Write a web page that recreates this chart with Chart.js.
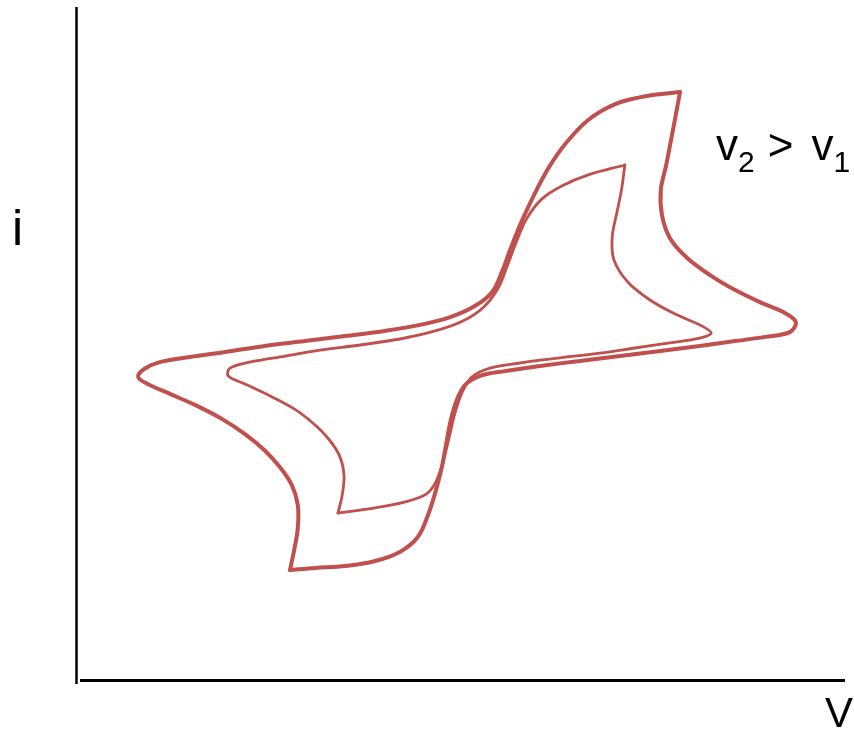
<!DOCTYPE html>
<html>
<head>
<meta charset="utf-8">
<title>Cyclic voltammogram at two scan rates</title>
<script src="https://cdn.jsdelivr.net/npm/chart.js@4/dist/chart.umd.min.js"></script>
<style>
  body { margin: 0; background: #fff; }
  #wrap { position: relative; width: 854px; height: 736px; }
  .lbl { position: absolute; font-family: "Liberation Sans", Arial, sans-serif; color: #000; line-height: 1; white-space: nowrap; }
  #note sub { font-size: 30px; vertical-align: -12px; line-height: 1; }
  #note .gt { margin-left: 13px; margin-right: 18px; }
</style>
</head>
<body>
<div id="wrap">
  <canvas id="cv" width="854" height="736"></canvas>
  <div class="lbl" id="ylab" style="left:12px; top:203px; font-size:50px;">i</div>
  <div class="lbl" id="xlab" style="left:825px; top:692px; font-size:42px;">V</div>
  <div class="lbl" id="note" style="left:716px; top:123px; font-size:44px;">v<sub>2</sub><span class="gt">&gt;</span>v<sub>1</sub></div>
</div>
<script>
// potential (V) and current (arb.) for the faster scan, v2
// forward half: from the upper switching corner down through the right tip to the lower corner
const v2ForwardE = [0.405, 0.398, 0.390, 0.382, 0.373, 0.375, 0.388, 0.417, 0.455, 0.497, 0.538, 0.577, 0.598, 0.588, 0.547, 0.497, 0.438, 0.372, 0.305, 0.238, 0.172, 0.113, 0.072, 0.047, 0.033, 0.023, 0.015, 0.007, -0.003, -0.015, -0.032, -0.062, -0.103, -0.153, -0.203, -0.245];
const v2ForwardI = [0.813, 0.737, 0.653, 0.570, 0.487, 0.403, 0.327, 0.260, 0.203, 0.153, 0.113, 0.080, 0.047, 0.013, -0.003, -0.017, -0.033, -0.050, -0.067, -0.083, -0.100, -0.117, -0.133, -0.163, -0.213, -0.280, -0.363, -0.447, -0.523, -0.597, -0.670, -0.720, -0.750, -0.767, -0.773, -0.780];
// reverse half: lower corner, up through the left tip, back to the upper corner
const v2ReverseE = [-0.245, -0.238, -0.232, -0.232, -0.242, -0.262, -0.288, -0.320, -0.358, -0.400, -0.445, -0.482, -0.498, -0.488, -0.462, -0.412, -0.353, -0.287, -0.220, -0.153, -0.087, -0.028, 0.022, 0.063, 0.092, 0.108, 0.123, 0.140, 0.160, 0.185, 0.215, 0.252, 0.297, 0.350, 0.405];
const v2ReverseI = [-0.780, -0.713, -0.640, -0.563, -0.497, -0.437, -0.380, -0.327, -0.277, -0.233, -0.193, -0.160, -0.137, -0.110, -0.087, -0.070, -0.053, -0.033, -0.017, 0.000, 0.017, 0.037, 0.063, 0.100, 0.147, 0.213, 0.293, 0.377, 0.463, 0.557, 0.643, 0.720, 0.773, 0.800, 0.813];

// slower scan, v1
const v1ForwardE = [0.313, 0.308, 0.300, 0.292, 0.295, 0.318, 0.355, 0.397, 0.438, 0.457, 0.438, 0.388, 0.330, 0.272, 0.205, 0.138, 0.088, 0.058, 0.042, 0.030, 0.020, 0.010, -0.002, -0.018, -0.053, -0.103, -0.165];
const v1ForwardI = [0.570, 0.493, 0.413, 0.330, 0.253, 0.180, 0.120, 0.073, 0.037, 0.010, -0.007, -0.023, -0.040, -0.057, -0.073, -0.090, -0.107, -0.137, -0.187, -0.257, -0.340, -0.420, -0.487, -0.527, -0.553, -0.573, -0.590];
const v1ReverseE = [-0.165, -0.158, -0.155, -0.163, -0.182, -0.207, -0.238, -0.278, -0.320, -0.348, -0.345, -0.312, -0.253, -0.195, -0.128, -0.062, -0.003, 0.043, 0.078, 0.102, 0.117, 0.132, 0.150, 0.175, 0.208, 0.252, 0.313];
const v1ReverseI = [-0.590, -0.530, -0.463, -0.397, -0.340, -0.290, -0.243, -0.200, -0.160, -0.133, -0.107, -0.087, -0.067, -0.047, -0.030, -0.010, 0.017, 0.050, 0.097, 0.160, 0.233, 0.313, 0.393, 0.457, 0.500, 0.537, 0.570];

const curveColor = '#c0504d';

function pairs(es, is) {
  return es.map((e, k) => ({ x: e, y: is[k] }));
}

function trace(es, is, width) {
  return {
    data: pairs(es, is),
    showLine: true,
    borderColor: curveColor,
    borderWidth: width,
    pointRadius: 0,
    tension: 0.35,
    fill: false,
    borderCapStyle: 'round',
    borderJoinStyle: 'round',
    clip: false
  };
}

// plain L-shaped axes, no ticks
const axesLines = {
  id: 'axesLines',
  afterDraw(chart) {
    const a = chart.chartArea;
    const c = chart.ctx;
    c.save();
    c.strokeStyle = '#000';
    c.lineWidth = 2.5;
    c.beginPath();
    c.moveTo(a.left - 0.5, a.top + 1);
    c.lineTo(a.left - 0.5, a.bottom + 3);
    c.stroke();
    c.lineWidth = 3;
    c.beginPath();
    c.moveTo(a.left + 3, a.bottom - 0.5);
    c.lineTo(a.right, a.bottom - 0.5);
    c.stroke();
    c.restore();
  }
};

new Chart(document.getElementById('cv'), {
  type: 'scatter',
  data: {
    datasets: [
      trace(v2ForwardE, v2ForwardI, 4),
      trace(v2ReverseE, v2ReverseI, 4),
      trace(v1ForwardE, v1ForwardI, 2.8),
      trace(v1ReverseE, v1ReverseI, 2.8)
    ]
  },
  options: {
    responsive: false,
    animation: false,
    layout: { padding: { left: 77, right: 9, top: 6, bottom: 55 } },
    plugins: { legend: { display: false }, tooltip: { enabled: false } },
    scales: {
      x: { type: 'linear', min: -0.6, max: 0.68, display: false },
      y: { type: 'linear', min: -1.15, max: 1.1, display: false }
    }
  },
  plugins: [axesLines]
});
</script>
</body>
</html>
